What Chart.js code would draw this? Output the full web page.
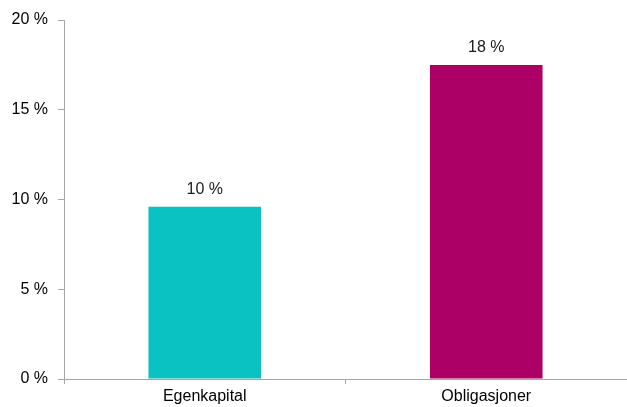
<!DOCTYPE html>
<html>
<head>
<meta charset="utf-8">
<script src="https://cdn.jsdelivr.net/npm/chart.js@4"></script>
<style>
  html, body { margin: 0; padding: 0; background: #fff; }
  #wrap { width: 627px; height: 407px; }
</style>
</head>
<body>
<div id="wrap"><canvas id="chart" width="627" height="407"></canvas></div>
<script>
const categories = ['Egenkapital', 'Obligasjoner'];
const values = [9.6, 17.5];
const barColors = ['#0AC2C2', '#AD0067'];
const yTicks = [0, 5, 10, 15, 20];

const FONT = 'Liberation Sans, Arial, sans-serif';
const AXIS_COLOR = '#a6a6a6';

// simple value labels above the bars
const barLabels = {
  id: 'barLabels',
  afterDatasetsDraw(chart) {
    const ctx = chart.ctx;
    const meta = chart.getDatasetMeta(0);
    ctx.save();
    ctx.font = '16px ' + FONT;
    ctx.fillStyle = '#1a1a1a';
    ctx.textAlign = 'center';
    ctx.textBaseline = 'middle';
    meta.data.forEach((bar, i) => {
      ctx.fillText(Math.round(values[i]) + ' %', bar.x, bar.y - 17);
    });
    ctx.restore();
  }
};

new Chart(document.getElementById('chart'), {
  type: 'bar',
  data: {
    labels: categories,
    datasets: [{
      data: values,
      backgroundColor: barColors,
      borderWidth: 0,
      barPercentage: 0.4,
      categoryPercentage: 1
    }]
  },
  options: {
    responsive: false,
    animation: false,
    layout: { padding: { top: 20, right: 0, left: 0, bottom: 0 } },
    plugins: {
      legend: { display: false },
      tooltip: { enabled: false }
    },
    scales: {
      x: {
        offset: true,
        grid: {
          offset: true,
          drawOnChartArea: false,
          drawTicks: true,
          tickLength: 5,
          color: AXIS_COLOR
        },
        border: { color: AXIS_COLOR, width: 1 },
        ticks: {
          color: '#000',
          font: { family: FONT, size: 16 },
          padding: 3,
          maxRotation: 0
        },
        afterFit(scale) { scale.height = 28; }
      },
      y: {
        min: 0,
        max: 20,
        afterBuildTicks(scale) {
          scale.ticks = yTicks.map(v => ({ value: v }));
        },
        grid: {
          drawOnChartArea: false,
          drawTicks: true,
          tickLength: 6,
          color: AXIS_COLOR
        },
        border: { color: AXIS_COLOR, width: 1 },
        ticks: {
          color: '#000',
          font: { family: FONT, size: 16 },
          padding: 10,
          callback: v => v + ' %'
        },
        afterFit(scale) { scale.width = 64; }
      }
    }
  },
  plugins: [barLabels]
});
</script>
</body>
</html>
